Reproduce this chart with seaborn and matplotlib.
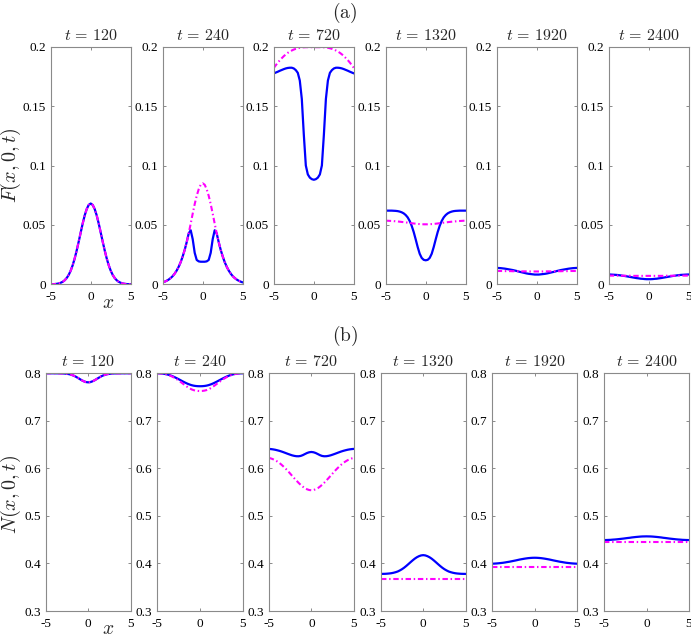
import numpy as np
import pandas as pd
import matplotlib
matplotlib.use("Agg")
import matplotlib.pyplot as plt
import seaborn as sns

# ---------------- data ----------------
times = [120, 240, 720, 1320, 1920, 2400]
x_vals = np.linspace(-5, 5, 41)
x_ticks = [-5, 0, 5]
x_tick_labels = ["-5", "0", "5"]
F_ticks = [0, 0.05, 0.1, 0.15, 0.2]
F_tick_labels = ["0", "0.05", "0.1", "0.15", "0.2"]
N_ticks = [0.3, 0.4, 0.5, 0.6, 0.7, 0.8]
N_tick_labels = ["0.3", "0.4", "0.5", "0.6", "0.7", "0.8"]

F120_blue = [0.0001, 0.0001, 0.0002, 0.0004, 0.0007, 0.0013, 0.0021, 0.0034, 0.0053, 0.0079,
             0.0115, 0.0161, 0.0218, 0.0285, 0.0359, 0.0436, 0.0512, 0.0580, 0.0633, 0.0668,
             0.0680,
             0.0668, 0.0633, 0.0580, 0.0512, 0.0436, 0.0359, 0.0285, 0.0218, 0.0161, 0.0115,
             0.0079, 0.0053, 0.0034, 0.0021, 0.0013, 0.0007, 0.0004, 0.0002, 0.0001, 0.0001]
F120_mag = list(F120_blue)

F240_mag = [0.0016, 0.0022, 0.0030, 0.0040, 0.0053, 0.0069, 0.0090, 0.0116, 0.0148, 0.0187,
            0.0235, 0.0290, 0.0355, 0.0430, 0.0510, 0.0595, 0.0675, 0.0745, 0.0800, 0.0838,
            0.0850,
            0.0838, 0.0800, 0.0745, 0.0675, 0.0595, 0.0510, 0.0430, 0.0355, 0.0290, 0.0235,
            0.0187, 0.0148, 0.0116, 0.0090, 0.0069, 0.0053, 0.0040, 0.0030, 0.0022, 0.0016]
F240_blue = [0.0016, 0.0022, 0.0030, 0.0040, 0.0053, 0.0069, 0.0090, 0.0116, 0.0148, 0.0187,
             0.0235, 0.0290, 0.0355, 0.0428, 0.0455, 0.0380, 0.0265, 0.0205, 0.0193, 0.0190,
             0.0190,
             0.0190, 0.0193, 0.0205, 0.0265, 0.0380, 0.0455, 0.0428, 0.0355, 0.0290, 0.0235,
             0.0187, 0.0148, 0.0116, 0.0090, 0.0069, 0.0053, 0.0040, 0.0030, 0.0022, 0.0016]

F720_mag = [0.1820, 0.1843, 0.1865, 0.1885, 0.1903, 0.1920, 0.1935, 0.1948, 0.1959, 0.1968,
            0.1976, 0.1982, 0.1987, 0.1991, 0.1994, 0.1995, 0.1996, 0.1996, 0.1996, 0.1996,
            0.1996,
            0.1996, 0.1996, 0.1996, 0.1996, 0.1995, 0.1994, 0.1991, 0.1987, 0.1982, 0.1976,
            0.1968, 0.1959, 0.1948, 0.1935, 0.1920, 0.1903, 0.1885, 0.1865, 0.1843, 0.1820]
F720_blue = [0.1775, 0.1782, 0.1789, 0.1797, 0.1804, 0.1811, 0.1817, 0.1821, 0.1823, 0.1823,
             0.1817, 0.1803, 0.1780, 0.1715, 0.1560, 0.1260, 0.1000, 0.0925, 0.0898, 0.0885,
             0.0880,
             0.0885, 0.0898, 0.0925, 0.1000, 0.1260, 0.1560, 0.1715, 0.1780, 0.1803, 0.1817,
             0.1823, 0.1823, 0.1821, 0.1817, 0.1811, 0.1804, 0.1797, 0.1789, 0.1782, 0.1775]

F1320_blue = [0.0620, 0.0620, 0.0620, 0.0620, 0.0619, 0.0618, 0.0616, 0.0612, 0.0606, 0.0597,
              0.0583, 0.0563, 0.0533, 0.0492, 0.0440, 0.0378, 0.0313, 0.0257, 0.0222, 0.0206,
              0.0202,
              0.0206, 0.0222, 0.0257, 0.0313, 0.0378, 0.0440, 0.0492, 0.0533, 0.0563, 0.0583,
              0.0597, 0.0606, 0.0612, 0.0616, 0.0618, 0.0619, 0.0620, 0.0620, 0.0620, 0.0620]
F1320_mag = [0.0535, 0.0535, 0.0534, 0.0533, 0.0532, 0.0530, 0.0529, 0.0527, 0.0525, 0.0523,
             0.0521, 0.0519, 0.0516, 0.0514, 0.0512, 0.0510, 0.0508, 0.0507, 0.0506, 0.0505,
             0.0505,
             0.0505, 0.0506, 0.0507, 0.0508, 0.0510, 0.0512, 0.0514, 0.0516, 0.0519, 0.0521,
             0.0523, 0.0525, 0.0527, 0.0529, 0.0530, 0.0532, 0.0533, 0.0534, 0.0535, 0.0535]

F1920_blue = [0.0138, 0.0137, 0.0136, 0.0134, 0.0132, 0.0129, 0.0126, 0.0123, 0.0120, 0.0116,
              0.0112, 0.0107, 0.0103, 0.0099, 0.0095, 0.0091, 0.0088, 0.0086, 0.0084, 0.0082,
              0.0082,
              0.0082, 0.0084, 0.0086, 0.0088, 0.0091, 0.0095, 0.0099, 0.0103, 0.0107, 0.0112,
              0.0116, 0.0120, 0.0123, 0.0126, 0.0129, 0.0132, 0.0134, 0.0136, 0.0137, 0.0138]
F1920_mag = [0.0112, 0.0112, 0.0112, 0.0112, 0.0111, 0.0111, 0.0111, 0.0111, 0.0110, 0.0110,
             0.0110, 0.0110, 0.0109, 0.0109, 0.0109, 0.0109, 0.0108, 0.0108, 0.0108, 0.0108,
             0.0108,
             0.0108, 0.0108, 0.0108, 0.0108, 0.0109, 0.0109, 0.0109, 0.0109, 0.0110, 0.0110,
             0.0110, 0.0110, 0.0111, 0.0111, 0.0111, 0.0111, 0.0112, 0.0112, 0.0112, 0.0112]

F2400_blue = [0.0083, 0.0082, 0.0081, 0.0080, 0.0079, 0.0077, 0.0075, 0.0072, 0.0070, 0.0067,
              0.0064, 0.0061, 0.0058, 0.0055, 0.0052, 0.0050, 0.0047, 0.0046, 0.0044, 0.0043,
              0.0043,
              0.0043, 0.0044, 0.0046, 0.0047, 0.0050, 0.0052, 0.0055, 0.0058, 0.0061, 0.0064,
              0.0067, 0.0070, 0.0072, 0.0075, 0.0077, 0.0079, 0.0080, 0.0081, 0.0082, 0.0083]
F2400_mag = [0.0073, 0.0073, 0.0073, 0.0073, 0.0073, 0.0073, 0.0072, 0.0072, 0.0072, 0.0072,
             0.0072, 0.0072, 0.0071, 0.0071, 0.0071, 0.0071, 0.0071, 0.0071, 0.0071, 0.0071,
             0.0071,
             0.0071, 0.0071, 0.0071, 0.0071, 0.0071, 0.0071, 0.0071, 0.0071, 0.0072, 0.0072,
             0.0072, 0.0072, 0.0072, 0.0072, 0.0073, 0.0073, 0.0073, 0.0073, 0.0073, 0.0073]

N120_blue = [0.8000, 0.8000, 0.8000, 0.8000, 0.8000, 0.7999, 0.7999, 0.7998, 0.7997, 0.7994,
             0.7989, 0.7982, 0.7970, 0.7954, 0.7933, 0.7907, 0.7880, 0.7853, 0.7831, 0.7815,
             0.7810,
             0.7815, 0.7831, 0.7853, 0.7880, 0.7907, 0.7933, 0.7954, 0.7970, 0.7982, 0.7989,
             0.7994, 0.7997, 0.7998, 0.7999, 0.7999, 0.8000, 0.8000, 0.8000, 0.8000, 0.8000]
N120_mag = list(N120_blue)

N240_blue = [0.8000, 0.7999, 0.7996, 0.7991, 0.7983, 0.7972, 0.7958, 0.7941, 0.7921, 0.7899,
             0.7876, 0.7852, 0.7828, 0.7805, 0.7784, 0.7766, 0.7751, 0.7740, 0.7733, 0.7729,
             0.7728,
             0.7729, 0.7733, 0.7740, 0.7751, 0.7766, 0.7784, 0.7805, 0.7828, 0.7852, 0.7876,
             0.7899, 0.7921, 0.7941, 0.7958, 0.7972, 0.7983, 0.7991, 0.7996, 0.7999, 0.8000]
N240_mag = [0.8000, 0.7999, 0.7996, 0.7990, 0.7981, 0.7968, 0.7951, 0.7931, 0.7907, 0.7879,
            0.7849, 0.7816, 0.7782, 0.7748, 0.7716, 0.7687, 0.7663, 0.7646, 0.7635, 0.7629,
            0.7627,
            0.7629, 0.7635, 0.7646, 0.7663, 0.7687, 0.7716, 0.7748, 0.7782, 0.7816, 0.7849,
            0.7879, 0.7907, 0.7931, 0.7951, 0.7968, 0.7981, 0.7990, 0.7996, 0.7999, 0.8000]

N720_blue = [0.6410, 0.6406, 0.6400, 0.6392, 0.6381, 0.6369, 0.6355, 0.6339, 0.6322, 0.6305,
             0.6289, 0.6274, 0.6263, 0.6256, 0.6255, 0.6262, 0.6279, 0.6302, 0.6324, 0.6339,
             0.6345,
             0.6339, 0.6324, 0.6302, 0.6279, 0.6262, 0.6255, 0.6256, 0.6263, 0.6274, 0.6289,
             0.6305, 0.6322, 0.6339, 0.6355, 0.6369, 0.6381, 0.6392, 0.6400, 0.6406, 0.6410]
N720_mag = [0.6220, 0.6210, 0.6193, 0.6172, 0.6145, 0.6115, 0.6077, 0.6036, 0.5992, 0.5945,
            0.5894, 0.5843, 0.5792, 0.5744, 0.5696, 0.5653, 0.5615, 0.5583, 0.5560, 0.5545,
            0.5540,
            0.5545, 0.5560, 0.5583, 0.5615, 0.5653, 0.5696, 0.5744, 0.5792, 0.5843, 0.5894,
            0.5945, 0.5992, 0.6036, 0.6077, 0.6115, 0.6145, 0.6172, 0.6193, 0.6210, 0.6220]

N1320_blue = [0.3780, 0.3781, 0.3782, 0.3785, 0.3789, 0.3795, 0.3804, 0.3816, 0.3831, 0.3853,
              0.3879, 0.3910, 0.3946, 0.3985, 0.4025, 0.4064, 0.4100, 0.4130, 0.4153, 0.4169,
              0.4175,
              0.4169, 0.4153, 0.4130, 0.4100, 0.4064, 0.4025, 0.3985, 0.3946, 0.3910, 0.3879,
              0.3853, 0.3831, 0.3816, 0.3804, 0.3795, 0.3789, 0.3785, 0.3782, 0.3781, 0.3780]
N1320_mag = [0.368, 0.368, 0.368, 0.368, 0.368, 0.368, 0.368, 0.368, 0.368, 0.368,
             0.368, 0.368, 0.368, 0.368, 0.368, 0.368, 0.368, 0.368, 0.368, 0.368,
             0.368,
             0.368, 0.368, 0.368, 0.368, 0.368, 0.368, 0.368, 0.368, 0.368, 0.368,
             0.368, 0.368, 0.368, 0.368, 0.368, 0.368, 0.368, 0.368, 0.368, 0.368]

N1920_blue = [0.3995, 0.3997, 0.4000, 0.4004, 0.4009, 0.4014, 0.4021, 0.4029, 0.4036, 0.4045,
              0.4054, 0.4063, 0.4073, 0.4083, 0.4091, 0.4099, 0.4106, 0.4112, 0.4116, 0.4119,
              0.4120,
              0.4119, 0.4116, 0.4112, 0.4106, 0.4099, 0.4091, 0.4083, 0.4073, 0.4063, 0.4054,
              0.4045, 0.4036, 0.4029, 0.4021, 0.4014, 0.4009, 0.4004, 0.4000, 0.3997, 0.3995]
N1920_mag = [0.3925, 0.3925, 0.3925, 0.3925, 0.3925, 0.3925, 0.3925, 0.3925, 0.3925, 0.3925,
             0.3925, 0.3925, 0.3925, 0.3925, 0.3925, 0.3925, 0.3925, 0.3925, 0.3925, 0.3925,
             0.3925,
             0.3925, 0.3925, 0.3925, 0.3925, 0.3925, 0.3925, 0.3925, 0.3925, 0.3925, 0.3925,
             0.3925, 0.3925, 0.3925, 0.3925, 0.3925, 0.3925, 0.3925, 0.3925, 0.3925, 0.3925]

N2400_blue = [0.4492, 0.4493, 0.4495, 0.4497, 0.4501, 0.4504, 0.4508, 0.4513, 0.4518, 0.4523,
              0.4529, 0.4535, 0.4540, 0.4547, 0.4552, 0.4557, 0.4561, 0.4565, 0.4568, 0.4569,
              0.4570,
              0.4569, 0.4568, 0.4565, 0.4561, 0.4557, 0.4552, 0.4547, 0.4540, 0.4535, 0.4529,
              0.4523, 0.4518, 0.4513, 0.4508, 0.4504, 0.4501, 0.4497, 0.4495, 0.4493, 0.4492]
N2400_mag = [0.445, 0.445, 0.445, 0.445, 0.445, 0.445, 0.445, 0.445, 0.445, 0.445,
             0.445, 0.445, 0.445, 0.445, 0.445, 0.445, 0.445, 0.445, 0.445, 0.445,
             0.445,
             0.445, 0.445, 0.445, 0.445, 0.445, 0.445, 0.445, 0.445, 0.445, 0.445,
             0.445, 0.445, 0.445, 0.445, 0.445, 0.445, 0.445, 0.445, 0.445, 0.445]

F_blue = [F120_blue, F240_blue, F720_blue, F1320_blue, F1920_blue, F2400_blue]
F_mag = [F120_mag, F240_mag, F720_mag, F1320_mag, F1920_mag, F2400_mag]
N_blue = [N120_blue, N240_blue, N720_blue, N1320_blue, N1920_blue, N2400_blue]
N_mag = [N120_mag, N240_mag, N720_mag, N1320_mag, N1920_mag, N2400_mag]

# ---------------- style ----------------
sns.set_theme(style="ticks")
GRAY = "#8a8a8a"
plt.rcParams.update({
    "font.family": ["Liberation Serif", "DejaVu Serif"],
    "mathtext.fontset": "cm",
    "axes.unicode_minus": False,
    "axes.edgecolor": GRAY,
    "axes.linewidth": 0.8,
    "xtick.direction": "in",
    "ytick.direction": "in",
    "xtick.top": True,
    "ytick.right": True,
    "xtick.color": GRAY,
    "ytick.color": GRAY,
    "xtick.labelcolor": "black",
    "ytick.labelcolor": "black",
    "xtick.major.size": 2.5,
    "ytick.major.size": 2.5,
    "xtick.major.width": 0.7,
    "ytick.major.width": 0.7,
    "xtick.labelsize": 9.5,
    "ytick.labelsize": 9.5,
    "xtick.major.pad": 5,
    "ytick.major.pad": 3.5,
})

W, H = 691, 636
fig = plt.figure(figsize=(W / 100, H / 100), dpi=100)

top_lefts = [50.7, 162.7, 273.7, 385.7, 496.7, 608.7]
bot_lefts = [45.7, 157.3, 268.7, 380.7, 492.3, 604.3]
rights = [130.7, 242.7, 354.0, 465.7, 577.0, 688.7]
row_geo = [(46.7, 284.3), (373.3, 611.0)]


def make_ax(left, right, top, bottom):
    return fig.add_axes([left / W, 1 - bottom / H, (right - left) / W, (bottom - top) / H])


for row in range(2):
    top, bottom = row_geo[row]
    lefts = top_lefts if row == 0 else bot_lefts
    blues = F_blue if row == 0 else N_blue
    mags = F_mag if row == 0 else N_mag
    for i, t in enumerate(times):
        ax = make_ax(lefts[i], rights[i], top, bottom)
        df = pd.DataFrame({"x": x_vals, "blue": blues[i], "mag": mags[i]})
        sns.lineplot(data=df, x="x", y="blue", ax=ax, color="#0000ff", lw=1.6,
                     errorbar=None, sort=False)
        sns.lineplot(data=df, x="x", y="mag", ax=ax, color="#ff00ff", lw=1.5,
                     errorbar=None, sort=False, linestyle=(0, (2.6, 1.3, 0.7, 1.3)))
        ax.set_xlim(-5, 5)
        if row == 0:
            ax.set_ylim(0, 0.2)
            ax.set_yticks(F_ticks)
            ax.set_yticklabels(F_tick_labels)
        else:
            ax.set_ylim(0.3, 0.8)
            ax.set_yticks(N_ticks)
            ax.set_yticklabels(N_tick_labels)
        ax.set_xticks(x_ticks)
        ax.set_xticklabels(x_tick_labels)
        ax.set_xlabel("")
        ax.set_ylabel("")
        ax.set_title(r"$t\,=\,%d$" % t, fontsize=11.5, pad=5)
        for s in ax.spines.values():
            s.set_visible(True)
            s.set_color(GRAY)

fig.text(345 / W, 1 - 13 / H, r"$(\mathrm{a})$", fontsize=14, ha="center", va="center")
fig.text(345 / W, 1 - 336 / H, r"$(\mathrm{b})$", fontsize=14, ha="center", va="center")
fig.text(11 / W, 1 - 165 / H, r"$F(x,0,t)$", fontsize=14.5, rotation=90, ha="center", va="center")
fig.text(11 / W, 1 - 495 / H, r"$N(x,0,t)$", fontsize=14.5, rotation=90, ha="center", va="center")
fig.text(108 / W, 1 - 304 / H, r"$x$", fontsize=14, ha="center", va="center")
fig.text(108 / W, 1 - 629 / H, r"$x$", fontsize=14, ha="center", va="center")

fig.savefig("out.png", dpi=100)
